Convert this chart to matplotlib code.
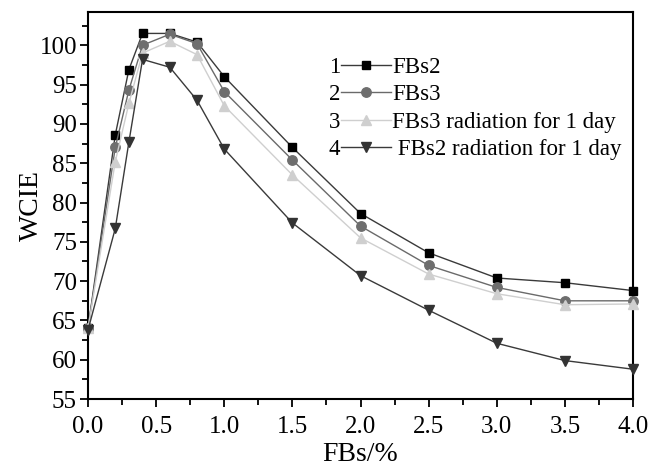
import matplotlib
matplotlib.use("Agg")
import matplotlib.pyplot as plt
from matplotlib.ticker import MultipleLocator, FormatStrFormatter

plt.rcParams['font.family'] = ['Liberation Serif', 'DejaVu Serif']

x = [0, 0.2, 0.3, 0.4, 0.6, 0.8, 1.0, 1.5, 2.0, 2.5, 3.0, 3.5, 4.0]
fbs2 = [64.0, 88.6, 96.9, 101.5, 101.5, 100.4, 96.0, 87.0, 78.6, 73.6, 70.4, 69.8, 68.8]
fbs3 = [64.0, 87.0, 94.3, 100.0, 101.4, 100.2, 94.1, 85.4, 77.0, 72.0, 69.2, 67.5, 67.5]
fbs3_rad = [64.0, 85.2, 92.6, 99.0, 100.5, 98.8, 92.3, 83.5, 75.5, 70.9, 68.4, 67.0, 67.1]
fbs2_rad = [63.8, 76.7, 87.7, 98.2, 97.2, 93.0, 86.8, 77.4, 70.7, 66.3, 62.1, 59.9, 58.8]

labels = ["FBs2", "FBs3", "FBs3 radiation for 1 day", " FBs2 radiation for 1 day"]
numbers = ["1", "2", "3", "4"]
yticks = [55, 60, 65, 70, 75, 80, 85, 90, 95, 100]

fig = plt.figure(figsize=(6.52, 4.69), dpi=100)
ax = fig.add_axes([0.135, 0.149, 0.836, 0.825])

styles = [
    dict(color="#3a3a3a", marker="s", mfc="#000000", mec="#000000", ms=5.8),
    dict(color="#6a6a6a", marker="o", mfc="#6e6e6e", mec="#6e6e6e", ms=6.8),
    dict(color="#cfcfcf", marker="^", mfc="#cfcfcf", mec="#cfcfcf", ms=7.8),
    dict(color="#3a3a3a", marker="v", mfc="#333333", mec="#333333", ms=7.8),
]
series = [fbs2, fbs3, fbs3_rad, fbs2_rad]
handles = []
for ys, st in zip(series, styles):
    h, = ax.plot(x, ys, lw=1.0, clip_on=False, zorder=3, **st)
    handles.append(h)

ax.set_xlim(0, 4.0)
ax.set_ylim(55, 104.2)
ax.xaxis.set_major_locator(MultipleLocator(0.5))
ax.xaxis.set_minor_locator(MultipleLocator(0.25))
ax.yaxis.set_minor_locator(MultipleLocator(2.5))
ax.set_yticks(yticks)
ax.xaxis.set_major_formatter(FormatStrFormatter('%.1f'))
ax.yaxis.set_major_formatter(FormatStrFormatter('%d'))

ax.tick_params(which='both', direction='out', top=False, right=False, width=1.3,
               labelsize=18, colors='black')
ax.tick_params(which='major', length=6, pad=2)
ax.tick_params(axis='x', which='major', pad=6)
ax.tick_params(which='minor', length=4)
for sp in ax.spines.values():
    sp.set_linewidth(1.5)

ax.set_xlabel("FBs/%", fontsize=20, labelpad=3)
ax.set_ylabel("WCIE", fontsize=20, labelpad=-3)

leg = ax.legend(handles, labels, loc='upper left', bbox_to_anchor=(0.465, 0.885),
                frameon=False, fontsize=16.5, handlelength=2.15, handletextpad=0.05,
                labelspacing=0.28, borderaxespad=0, borderpad=0)
fig.canvas.draw()
for txt, num in zip(leg.get_texts(), numbers):
    bb = txt.get_window_extent()
    hx = leg.get_window_extent().x0
    yc = (bb.y0 + bb.y1) / 2
    fx, fy = fig.transFigure.inverted().transform((hx, yc))
    fig.text(fx - 0.002, fy, num, ha='right', va='center', fontsize=16.5)

fig.savefig("out.png", dpi=100)
